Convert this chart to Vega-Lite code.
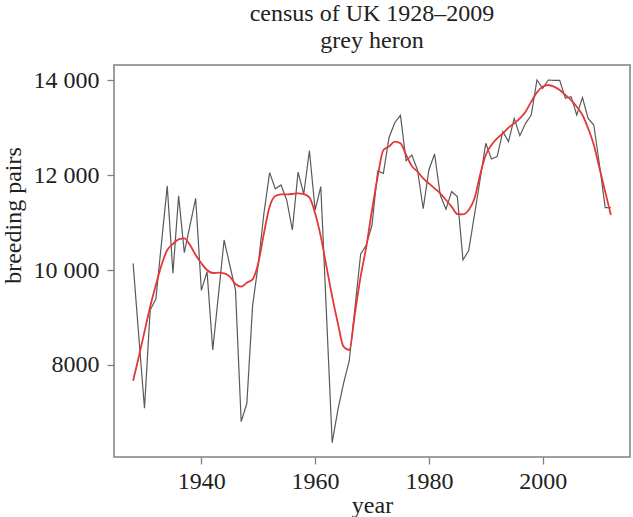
{
  "$schema": "https://vega.github.io/schema/vega-lite/v6.json",
  "width": 516,
  "height": 392,
  "autosize": "none",
  "padding": {"left": 114, "top": 65, "right": 3, "bottom": 60},
  "background": "white",
  "title": {
    "text": ["census of UK 1928–2009", "grey heron"],
    "font": "Liberation Serif",
    "fontSize": 24,
    "fontWeight": "normal",
    "color": "#222222",
    "anchor": "middle",
    "lineHeight": 27,
    "offset": 12
  },
  "config": {
    "view": {"stroke": "#808080", "strokeWidth": 1.5},
    "axis": {
      "labelFont": "Liberation Serif",
      "titleFont": "Liberation Serif",
      "labelFontSize": 24,
      "titleFontSize": 24,
      "titleFontWeight": "normal",
      "labelColor": "#222222",
      "titleColor": "#222222",
      "domain": false,
      "grid": false,
      "tickColor": "#808080",
      "tickWidth": 1.3,
      "tickSize": 7
    }
  },
  "datasets": {
    "counts": [
      {"year": 1928, "pairs": 10140}, {"year": 1929, "pairs": 8600}, {"year": 1930, "pairs": 7090},
      {"year": 1931, "pairs": 9160}, {"year": 1932, "pairs": 9390}, {"year": 1933, "pairs": 10580},
      {"year": 1934, "pairs": 11770}, {"year": 1935, "pairs": 9930}, {"year": 1936, "pairs": 11560},
      {"year": 1937, "pairs": 10365}, {"year": 1938, "pairs": 10940}, {"year": 1939, "pairs": 11510},
      {"year": 1940, "pairs": 9570}, {"year": 1941, "pairs": 9965}, {"year": 1942, "pairs": 8316},
      {"year": 1943, "pairs": 9470}, {"year": 1944, "pairs": 10632}, {"year": 1945, "pairs": 10100},
      {"year": 1946, "pairs": 9580}, {"year": 1947, "pairs": 6807}, {"year": 1948, "pairs": 7194},
      {"year": 1949, "pairs": 9240}, {"year": 1950, "pairs": 10120}, {"year": 1951, "pairs": 11194},
      {"year": 1952, "pairs": 12050}, {"year": 1953, "pairs": 11710}, {"year": 1954, "pairs": 11790},
      {"year": 1955, "pairs": 11474}, {"year": 1956, "pairs": 10842}, {"year": 1957, "pairs": 12060},
      {"year": 1958, "pairs": 11600}, {"year": 1959, "pairs": 12512}, {"year": 1960, "pairs": 11263},
      {"year": 1961, "pairs": 11754}, {"year": 1962, "pairs": 9060}, {"year": 1963, "pairs": 6365},
      {"year": 1964, "pairs": 7053}, {"year": 1965, "pairs": 7615}, {"year": 1966, "pairs": 8090},
      {"year": 1967, "pairs": 9200}, {"year": 1968, "pairs": 10331}, {"year": 1969, "pairs": 10527},
      {"year": 1970, "pairs": 10947}, {"year": 1971, "pairs": 12084}, {"year": 1972, "pairs": 12035},
      {"year": 1973, "pairs": 12790}, {"year": 1974, "pairs": 13100}, {"year": 1975, "pairs": 13256},
      {"year": 1976, "pairs": 12300}, {"year": 1977, "pairs": 12421}, {"year": 1978, "pairs": 12105},
      {"year": 1979, "pairs": 11290}, {"year": 1980, "pairs": 12105}, {"year": 1981, "pairs": 12442},
      {"year": 1982, "pairs": 11579}, {"year": 1983, "pairs": 11278}, {"year": 1984, "pairs": 11649},
      {"year": 1985, "pairs": 11544}, {"year": 1986, "pairs": 10211}, {"year": 1987, "pairs": 10410},
      {"year": 1988, "pairs": 11150}, {"year": 1989, "pairs": 11900}, {"year": 1990, "pairs": 12667},
      {"year": 1991, "pairs": 12337}, {"year": 1992, "pairs": 12386}, {"year": 1993, "pairs": 12912},
      {"year": 1994, "pairs": 12702}, {"year": 1995, "pairs": 13193}, {"year": 1996, "pairs": 12828},
      {"year": 1997, "pairs": 13088}, {"year": 1998, "pairs": 13263}, {"year": 1999, "pairs": 14000},
      {"year": 2000, "pairs": 13825}, {"year": 2001, "pairs": 14000}, {"year": 2002, "pairs": 13994},
      {"year": 2003, "pairs": 13994}, {"year": 2004, "pairs": 13614}, {"year": 2005, "pairs": 13649},
      {"year": 2006, "pairs": 13263}, {"year": 2007, "pairs": 13628}, {"year": 2008, "pairs": 13193},
      {"year": 2009, "pairs": 13053}, {"year": 2010, "pairs": 12211}, {"year": 2011, "pairs": 11312},
      {"year": 2012, "pairs": 11312}
    ],
    "smooth": [
      {"year": 1928, "pairs": 7670}, {"year": 1929, "pairs": 8175}, {"year": 1930, "pairs": 8702},
      {"year": 1931, "pairs": 9228}, {"year": 1932, "pairs": 9684}, {"year": 1933, "pairs": 10105},
      {"year": 1934, "pairs": 10421}, {"year": 1935, "pairs": 10547}, {"year": 1936, "pairs": 10646},
      {"year": 1937, "pairs": 10667}, {"year": 1938, "pairs": 10526}, {"year": 1939, "pairs": 10316},
      {"year": 1940, "pairs": 10141}, {"year": 1941, "pairs": 10000}, {"year": 1942, "pairs": 9937},
      {"year": 1943, "pairs": 9944}, {"year": 1944, "pairs": 9930}, {"year": 1945, "pairs": 9860},
      {"year": 1946, "pairs": 9705}, {"year": 1947, "pairs": 9649}, {"year": 1948, "pairs": 9733},
      {"year": 1949, "pairs": 9804}, {"year": 1950, "pairs": 10141}, {"year": 1951, "pairs": 10773},
      {"year": 1952, "pairs": 11333}, {"year": 1953, "pairs": 11558}, {"year": 1954, "pairs": 11594},
      {"year": 1955, "pairs": 11594}, {"year": 1956, "pairs": 11600}, {"year": 1957, "pairs": 11614},
      {"year": 1958, "pairs": 11600}, {"year": 1959, "pairs": 11530}, {"year": 1960, "pairs": 11193},
      {"year": 1961, "pairs": 10702}, {"year": 1962, "pairs": 10070}, {"year": 1963, "pairs": 9439},
      {"year": 1964, "pairs": 8877}, {"year": 1965, "pairs": 8386}, {"year": 1966, "pairs": 8316},
      {"year": 1967, "pairs": 9088}, {"year": 1968, "pairs": 9860}, {"year": 1969, "pairs": 10491},
      {"year": 1970, "pairs": 11263}, {"year": 1971, "pairs": 11965}, {"year": 1972, "pairs": 12526},
      {"year": 1973, "pairs": 12600}, {"year": 1974, "pairs": 12702}, {"year": 1975, "pairs": 12667},
      {"year": 1976, "pairs": 12421}, {"year": 1977, "pairs": 12189}, {"year": 1978, "pairs": 12070},
      {"year": 1979, "pairs": 11930}, {"year": 1980, "pairs": 11825}, {"year": 1981, "pairs": 11720},
      {"year": 1982, "pairs": 11614}, {"year": 1983, "pairs": 11474}, {"year": 1984, "pairs": 11333},
      {"year": 1985, "pairs": 11179}, {"year": 1986, "pairs": 11172}, {"year": 1987, "pairs": 11263},
      {"year": 1988, "pairs": 11500}, {"year": 1989, "pairs": 12000}, {"year": 1990, "pairs": 12421},
      {"year": 1991, "pairs": 12632}, {"year": 1992, "pairs": 12772}, {"year": 1993, "pairs": 12877},
      {"year": 1994, "pairs": 12996}, {"year": 1995, "pairs": 13088}, {"year": 1996, "pairs": 13193},
      {"year": 1997, "pairs": 13333}, {"year": 1998, "pairs": 13544}, {"year": 1999, "pairs": 13740},
      {"year": 2000, "pairs": 13860}, {"year": 2001, "pairs": 13895}, {"year": 2002, "pairs": 13860},
      {"year": 2003, "pairs": 13789}, {"year": 2004, "pairs": 13684}, {"year": 2005, "pairs": 13579},
      {"year": 2006, "pairs": 13438}, {"year": 2007, "pairs": 13263}, {"year": 2008, "pairs": 12982},
      {"year": 2009, "pairs": 12632}, {"year": 2010, "pairs": 12141}, {"year": 2011, "pairs": 11649},
      {"year": 2012, "pairs": 11158}
    ]
  },
  "encoding": {
    "x": {
      "field": "year",
      "type": "quantitative",
      "scale": {"domain": [1924.64, 2015.36], "nice": false, "zero": false},
      "axis": {
        "values": [1940, 1960, 1980, 2000],
        "format": "d",
        "title": "year",
        "labelPadding": 5,
        "titleY": 55,
        "titleBaseline": "alphabetic"
      }
    },
    "y": {
      "field": "pairs",
      "type": "quantitative",
      "scale": {"domain": [6063, 14316], "nice": false, "zero": false},
      "axis": {
        "values": [8000, 10000, 12000, 14000],
        "labelExpr": "datum.value >= 10000 ? floor(datum.value / 1000) + ' 000' : format(datum.value, 'd')",
        "title": "breeding pairs",
        "labelPadding": 8,
        "titleX": -94,
        "titleY": 150,
        "titleAngle": -90,
        "titleBaseline": "alphabetic",
        "titleAlign": "center"
      }
    }
  },
  "layer": [
    {
      "data": {"name": "counts"},
      "mark": {"type": "line", "color": "#5a5a5a", "strokeWidth": 1.2}
    },
    {
      "data": {"name": "smooth"},
      "mark": {"type": "line", "color": "#e4373a", "strokeWidth": 1.8, "interpolate": "monotone"}
    }
  ]
}
